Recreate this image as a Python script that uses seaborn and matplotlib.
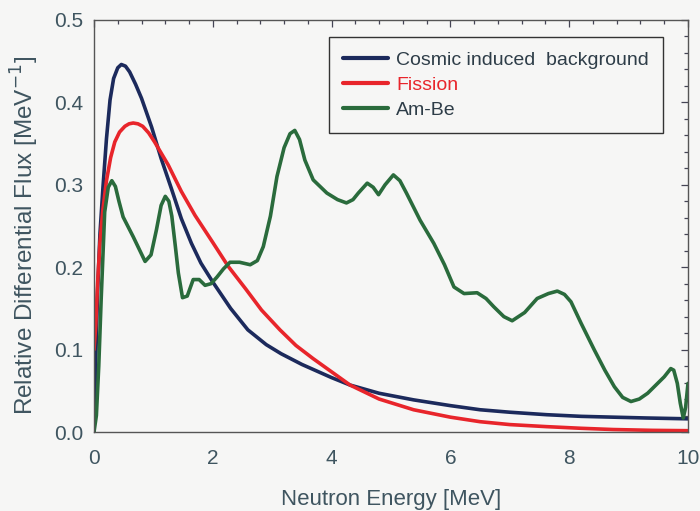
import numpy as np
import pandas as pd
import matplotlib
matplotlib.use("Agg")
import matplotlib.pyplot as plt
import seaborn as sns
from matplotlib.ticker import MultipleLocator, FuncFormatter

# ---- data ----
cosmic_x = [0.0, 0.03, 0.06, 0.10, 0.15, 0.21, 0.27, 0.33, 0.40, 0.46, 0.53, 0.60, 0.70, 0.80, 0.97,
            1.13, 1.30, 1.47, 1.64, 1.80, 2.00, 2.30, 2.59, 2.90, 3.15, 3.50, 4.00, 4.31, 4.80, 5.38,
            6.00, 6.50, 7.00, 7.62, 8.20, 8.74, 9.30, 10.0]
cosmic_y = [0.0, 0.09, 0.17, 0.24, 0.296, 0.356, 0.403, 0.429, 0.442, 0.446, 0.444, 0.437, 0.422, 0.405, 0.370,
            0.332, 0.296, 0.259, 0.229, 0.205, 0.182, 0.150, 0.124, 0.106, 0.095, 0.082, 0.066, 0.057, 0.047, 0.039,
            0.032, 0.027, 0.024, 0.021, 0.019, 0.018, 0.017, 0.016]

fission_x = [0.0, 0.03, 0.06, 0.10, 0.15, 0.21, 0.28, 0.35, 0.43, 0.52, 0.59, 0.66, 0.74, 0.82, 0.92,
             1.02, 1.25, 1.47, 1.70, 2.00, 2.26, 2.55, 2.82, 3.13, 3.40, 3.69, 4.00, 4.31, 4.80, 5.38,
             6.00, 6.50, 7.00, 7.62, 8.20, 8.74, 9.40, 10.0]
fission_y = [0.10, 0.13, 0.18, 0.23, 0.27, 0.305, 0.333, 0.352, 0.364, 0.371, 0.374, 0.375, 0.374, 0.371, 0.363,
             0.352, 0.324, 0.292, 0.263, 0.230, 0.201, 0.174, 0.148, 0.124, 0.105, 0.089, 0.073, 0.057, 0.040, 0.027,
             0.018, 0.0125, 0.009, 0.0065, 0.0045, 0.003, 0.002, 0.0016]

ambe_x = [0.0, 0.04, 0.08, 0.12, 0.18, 0.24, 0.30, 0.36, 0.42, 0.49, 0.66, 0.76, 0.86, 0.96, 1.05, 1.13,
          1.20, 1.26, 1.31, 1.37, 1.42, 1.49, 1.57, 1.67, 1.77, 1.87, 1.97, 2.07, 2.18, 2.29, 2.45,
          2.63, 2.75, 2.85, 2.97, 3.08, 3.20, 3.30, 3.38, 3.46, 3.55, 3.69, 3.92, 4.10, 4.25, 4.36,
          4.45, 4.60, 4.70, 4.79, 4.90, 5.04, 5.15, 5.26, 5.49, 5.72, 5.90, 6.06, 6.23, 6.45, 6.60,
          6.73, 6.90, 7.04, 7.25, 7.46, 7.65, 7.80, 7.92, 8.03, 8.20, 8.42, 8.60, 8.76, 8.90, 9.04,
          9.18, 9.32, 9.46, 9.60, 9.71, 9.76, 9.82, 9.87, 9.92, 9.96, 10.0]
ambe_y = [0.0, 0.02, 0.08, 0.16, 0.267, 0.297, 0.305, 0.298, 0.280, 0.261, 0.237, 0.222, 0.207, 0.215, 0.245,
          0.275, 0.286, 0.280, 0.262, 0.225, 0.193, 0.163, 0.165, 0.185, 0.185, 0.178, 0.180, 0.188, 0.198, 0.206,
          0.206, 0.203, 0.208, 0.225, 0.262, 0.310, 0.345, 0.362, 0.366, 0.355, 0.330, 0.306, 0.290, 0.282, 0.278,
          0.282, 0.290, 0.302, 0.297, 0.288, 0.300, 0.312, 0.305, 0.290, 0.257, 0.229, 0.203, 0.176, 0.168, 0.169,
          0.162, 0.152, 0.140, 0.135, 0.145, 0.162, 0.168, 0.171, 0.167, 0.158, 0.132, 0.100, 0.075, 0.055, 0.042,
          0.037, 0.040, 0.047, 0.057, 0.067, 0.077, 0.075, 0.059, 0.035, 0.017, 0.030, 0.059]

series_names = ["Cosmic induced  background", "Fission", "Am-Be"]
series_colors = ["#1c2a5c", "#e8252b", "#2a6b3c"]

frames = []
for name, xs, ys in zip(series_names, [cosmic_x, fission_x, ambe_x], [cosmic_y, fission_y, ambe_y]):
    frames.append(pd.DataFrame({"energy": xs, "flux": ys, "source": name}))
df = pd.concat(frames, ignore_index=True)

sns.set_theme(style="white")
plt.rcParams["font.family"] = ["Liberation Sans", "DejaVu Sans"]

bg = "#f6f6f5"
fig = plt.figure(figsize=(7.0, 5.11), dpi=100, facecolor=bg)
ax = fig.add_axes([94/700, 79/511, 594/700, 412/511])
ax.set_facecolor(bg)

sns.lineplot(data=df, x="energy", y="flux", hue="source", hue_order=series_names,
             palette=dict(zip(series_names, series_colors)), linewidth=2.6,
             sort=False, estimator=None, ax=ax)

ax.set_xlim(0, 10)
ax.set_ylim(0, 0.5)
ax.xaxis.set_major_locator(MultipleLocator(2))
ax.xaxis.set_minor_locator(MultipleLocator(0.4))
ax.yaxis.set_major_locator(MultipleLocator(0.1))
ax.yaxis.set_minor_locator(MultipleLocator(0.02))
ax.xaxis.set_major_formatter(FuncFormatter(lambda v, p: f"{v:.0f}"))
ax.yaxis.set_major_formatter(FuncFormatter(lambda v, p: f"{v:.1f}"))

txt = "#3f5560"
ax.tick_params(which="both", direction="in", top=True, right=True, colors="#445", labelcolor=txt,
               labelsize=15, width=0.9)
ax.tick_params(which="major", length=5)
ax.tick_params(which="minor", length=3)
ax.tick_params(axis="x", which="major", pad=12)
ax.tick_params(axis="y", which="major", pad=8)
for s in ax.spines.values():
    s.set_color("#555")
    s.set_linewidth(1.0)

ax.set_xlabel("Neutron Energy [MeV]", fontsize=16, color=txt, labelpad=15)
ax.set_ylabel("Relative Differential Flux [MeV$^{-1}$]", fontsize=17.5, color=txt)
ax.yaxis.set_label_coords(-0.09, 0.478)

leg = ax.legend(loc="upper right", bbox_to_anchor=((663-94)/594, (432-37)/412), borderaxespad=0,
                fontsize=14, frameon=True, fancybox=False, edgecolor="#333", facecolor=bg, framealpha=1,
                handlelength=2.3, borderpad=0.72, labelspacing=0.38, handletextpad=0.45)
leg.get_frame().set_linewidth(1.0)
for t, c in zip(leg.get_texts(), ["#2e3d48", "#e8252b", "#2e3d48"]):
    t.set_color(c)
for l in leg.get_lines():
    l.set_linewidth(3)

fig.savefig("out.png", dpi=100, facecolor=bg)
